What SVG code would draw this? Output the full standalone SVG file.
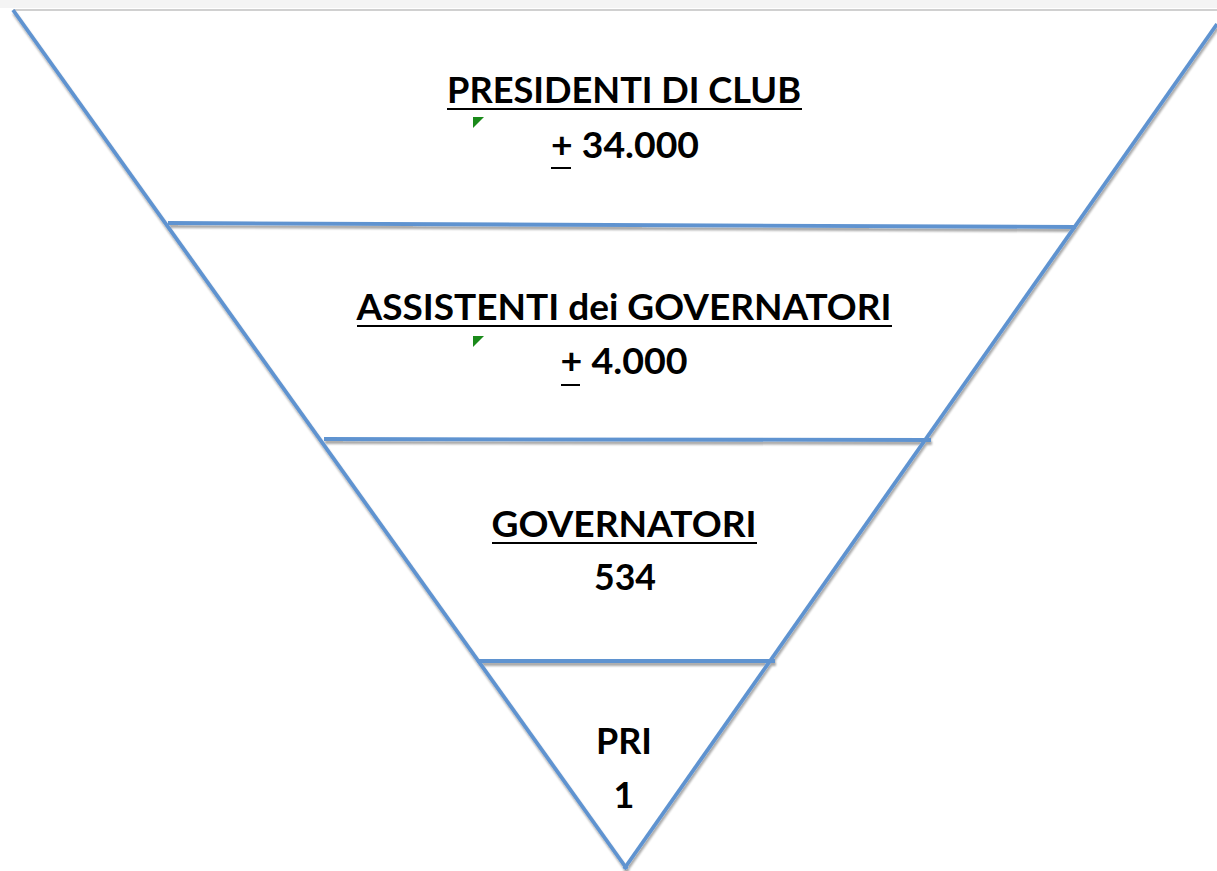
<svg xmlns="http://www.w3.org/2000/svg" width="1217" height="871" viewBox="0 0 1217 871">
<defs>
<filter id="sh" x="-5%" y="-5%" width="110%" height="110%">
<feGaussianBlur in="SourceAlpha" stdDeviation="1.2"/>
<feOffset dx="1" dy="2.5" result="b"/>
<feComponentTransfer><feFuncA type="linear" slope="0.35"/></feComponentTransfer>
<feMerge><feMergeNode/><feMergeNode in="SourceGraphic"/></feMerge>
</filter>
</defs>
<style>
.ln{stroke:#5f93d0;stroke-width:3.8;fill:none;stroke-linecap:butt}
.t{font-family:Lato,"Open Sans","Liberation Sans",sans-serif;font-weight:bold;font-size:36px;fill:#000;text-anchor:middle}
.u{stroke:#000;stroke-width:2}
.mk{fill:#1a8a1a}
</style>
<rect width="1217" height="871" fill="#fff"/>
<rect x="0" y="0" width="1217" height="8" fill="#f4f4f4"/>
<line x1="13" y1="10" x2="1217" y2="10" stroke="#d0d0d0" stroke-width="2"/>
<g id="connectors" filter="url(#sh)">
<line class="ln" x1="13" y1="10" x2="627" y2="869"/>
<line class="ln" x1="1217" y1="24" x2="624" y2="869"/>
<line class="ln" x1="168" y1="223" x2="1076" y2="227"/>
<line class="ln" x1="324" y1="439" x2="931" y2="440"/>
<line class="ln" x1="477" y1="661" x2="775" y2="661"/>
</g>
<g id="tier1">
<text class="t" x="624" y="103" textLength="354" lengthAdjust="spacingAndGlyphs">PRESIDENTI DI CLUB</text>
<line class="u" x1="447" y1="109" x2="802" y2="109"/>
<polygon class="mk" points="473,117 484,117 473,128"/>
<text class="t" x="625" y="158" textLength="148" lengthAdjust="spacingAndGlyphs">+ 34.000</text>
<line class="u" x1="551" y1="168" x2="571" y2="168"/>
</g>
<g id="tier2">
<text class="t" x="624" y="320" textLength="535" lengthAdjust="spacingAndGlyphs">ASSISTENTI dei GOVERNATORI</text>
<line class="u" x1="357" y1="326" x2="892" y2="326"/>
<polygon class="mk" points="473,336 484,336 473,347"/>
<text class="t" x="624" y="374" textLength="127" lengthAdjust="spacingAndGlyphs">+ 4.000</text>
<line class="u" x1="561" y1="385" x2="580" y2="385"/>
</g>
<g id="tier3">
<text class="t" x="624" y="537" textLength="265" lengthAdjust="spacingAndGlyphs">GOVERNATORI</text>
<line class="u" x1="492" y1="543" x2="757" y2="543"/>
<text class="t" x="625" y="590" textLength="62" lengthAdjust="spacingAndGlyphs">534</text>
</g>
<g id="tier4">
<text class="t" x="624" y="754" textLength="56" lengthAdjust="spacingAndGlyphs">PRI</text>
<text class="t" x="624" y="808">1</text>
</g>
</svg>
